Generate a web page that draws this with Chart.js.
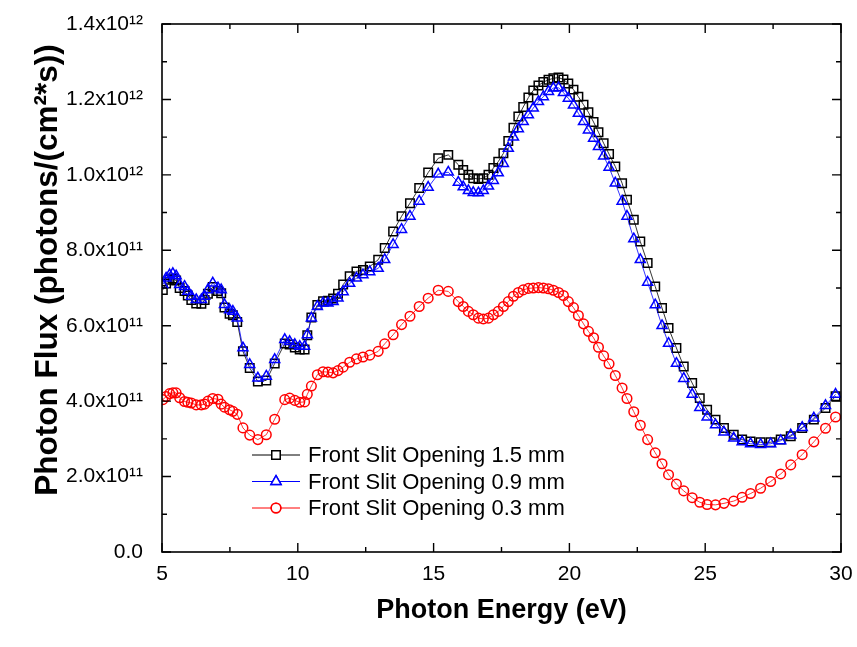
<!DOCTYPE html>
<html>
<head>
<meta charset="utf-8">
<title>Photon Flux vs Photon Energy</title>
<script src="https://cdn.jsdelivr.net/npm/chart.js@4.4.1/dist/chart.umd.min.js"></script>
<style>
    html, body { margin: 0; padding: 0; background: #ffffff; }
    #fluxChart { display: block; }
</style>
</head>
<body>
<canvas id="fluxChart" width="857" height="647"></canvas>
<script>
// photon energy (eV), same grid for all three slit openings
const energy = [
    5.03, 5.15, 5.28, 5.40, 5.52, 5.65, 5.83, 5.95, 6.08, 6.26, 6.45, 6.57, 6.69, 6.87, 7.06, 7.18, 7.30, 7.49, 7.61, 7.77,
    7.98, 8.23, 8.53, 8.84, 9.15, 9.52, 9.70, 9.89, 10.07, 10.25, 10.35, 10.50, 10.72, 10.93, 11.11, 11.30, 11.48,
    11.67, 11.91, 12.16, 12.40, 12.65, 12.96, 13.20, 13.51, 13.82, 14.13, 14.47, 14.80, 15.17, 15.54, 15.91, 16.09,
    16.28, 16.46, 16.65, 16.83, 17.02, 17.20, 17.38,
    17.57, 17.75, 17.94, 18.12, 18.30, 18.49, 18.67, 18.86, 19.04, 19.23, 19.41, 19.60, 19.78, 19.96, 20.15, 20.33,
    20.52, 20.70, 20.89, 21.07, 21.26, 21.46, 21.69, 21.94, 22.12, 22.37, 22.61, 22.88, 23.16, 23.41, 23.65, 23.94,
    24.21, 24.52, 24.80, 25.07, 25.38, 25.69, 26.05, 26.36, 26.67, 27.04, 27.41, 27.78, 28.15, 28.57, 29.00, 29.43, 29.80
];

// photon flux, in units of 1e12 photons/(cm^2*s)
const flux15 = [
    0.695, 0.712, 0.722, 0.725, 0.720, 0.700, 0.692, 0.680, 0.668, 0.659, 0.658, 0.668, 0.685, 0.703, 0.692, 0.686, 0.648, 0.632, 0.628, 0.610,
    0.532, 0.488, 0.452, 0.455, 0.500, 0.553, 0.550, 0.542, 0.537, 0.537, 0.575, 0.622, 0.655, 0.665, 0.666, 0.672, 0.685,
    0.709, 0.731, 0.744, 0.748, 0.757, 0.775, 0.806, 0.850, 0.890, 0.925, 0.965, 1.006, 1.044, 1.053, 1.027, 1.013,
    1.000, 0.991, 0.989, 0.991, 1.000, 1.018, 1.035,
    1.057, 1.090, 1.125, 1.155, 1.180, 1.205, 1.224, 1.237, 1.246, 1.252, 1.256, 1.258, 1.253, 1.242, 1.226, 1.207,
    1.186, 1.166, 1.140, 1.113, 1.084, 1.055, 1.022, 0.978, 0.934, 0.881, 0.823, 0.766, 0.704, 0.647, 0.594, 0.541,
    0.492, 0.448, 0.408, 0.377, 0.351, 0.329, 0.311, 0.298, 0.293, 0.291, 0.291, 0.298, 0.307, 0.329, 0.351, 0.382, 0.413
];

const flux09 = [
    0.709, 0.726, 0.735, 0.738, 0.732, 0.709, 0.704, 0.691, 0.678, 0.669, 0.669, 0.678, 0.695, 0.713, 0.700, 0.695, 0.656, 0.642, 0.638, 0.620,
    0.541, 0.497, 0.461, 0.466, 0.510, 0.563, 0.558, 0.550, 0.545, 0.545, 0.576, 0.620, 0.651, 0.660, 0.660, 0.664, 0.673,
    0.690, 0.712, 0.726, 0.735, 0.743, 0.752, 0.775, 0.815, 0.855, 0.890, 0.930, 0.967, 1.002, 1.007, 0.980, 0.968,
    0.958, 0.953, 0.952, 0.958, 0.970, 0.985, 1.005,
    1.030, 1.070, 1.100, 1.122, 1.141, 1.159, 1.177, 1.194, 1.207, 1.221, 1.230, 1.231, 1.218, 1.203, 1.185, 1.163,
    1.141, 1.119, 1.097, 1.075, 1.050, 1.020, 0.978, 0.930, 0.890, 0.830, 0.775, 0.715, 0.655, 0.600, 0.553, 0.500,
    0.460, 0.418, 0.383, 0.358, 0.337, 0.318, 0.302, 0.292, 0.287, 0.285, 0.287, 0.295, 0.310, 0.330, 0.355, 0.388, 0.418
];

const flux03 = [
    0.404, 0.412, 0.420, 0.422, 0.422, 0.409, 0.399, 0.397, 0.395, 0.390, 0.390, 0.392, 0.400, 0.407, 0.405, 0.392, 0.384, 0.377, 0.373, 0.365,
    0.329, 0.310, 0.298, 0.311, 0.352, 0.404, 0.408, 0.402, 0.397, 0.398, 0.418, 0.440, 0.470, 0.478, 0.477, 0.475, 0.481,
    0.490, 0.503, 0.512, 0.517, 0.522, 0.532, 0.552, 0.576, 0.603, 0.625, 0.651, 0.673, 0.694, 0.691, 0.664, 0.651,
    0.638, 0.629, 0.620, 0.618, 0.620, 0.629, 0.638,
    0.651, 0.664, 0.678, 0.688, 0.695, 0.699, 0.700, 0.701, 0.700, 0.698, 0.694, 0.688, 0.680, 0.664, 0.648, 0.627,
    0.605, 0.585, 0.568, 0.543, 0.520, 0.499, 0.468, 0.435, 0.407, 0.372, 0.336, 0.298, 0.263, 0.234, 0.205, 0.180,
    0.162, 0.144, 0.132, 0.126, 0.125, 0.129, 0.135, 0.145, 0.155, 0.169, 0.187, 0.207, 0.231, 0.258, 0.292, 0.328, 0.358
];

const seriesLabels = ['Front Slit Opening 1.5 mm', 'Front Slit Opening 0.9 mm', 'Front Slit Opening 0.3 mm'];
const xMajorTicks = [5, 10, 15, 20, 25, 30];
const yMajorTicks = [0, 0.2e12, 0.4e12, 0.6e12, 0.8e12, 1.0e12, 1.2e12, 1.4e12];
const FLUX_UNIT = 1e12;

const FONT = '"Liberation Sans", Arial, Helvetica, sans-serif';
const SUP = { '0': '\u2070', '1': '\u00b9', '2': '\u00b2', '3': '\u00b3', '4': '\u2074', '5': '\u2075', '6': '\u2076', '7': '\u2077', '8': '\u2078', '9': '\u2079' };

function sciLabel(v) {
    if (Math.abs(v) < 1) return '0.0';
    const exp = Math.floor(Math.log10(v) + 1e-9);
    const mant = (v / Math.pow(10, exp)).toFixed(1);
    return mant + 'x10' + String(exp).split('').map(c => SUP[c]).join('');
}

function isMajorX(v) {
    return xMajorTicks.some(t => Math.abs(t - v) < 1e-6);
}

function isMajorY(v) {
    return yMajorTicks.some(t => Math.abs(t - v) < 1e3);
}

function toPoints(values) {
    return energy.map((e, i) => ({ x: e, y: values[i] * FLUX_UNIT }));
}

// frame, inward ticks, axis titles and the legend box
const framePlugin = {
    id: 'framePlugin',
    afterDraw(chart) {
        const ctx = chart.ctx;
        const area = chart.chartArea;
        const xScale = chart.scales.x;
        const yScale = chart.scales.y;

        ctx.save();
        ctx.strokeStyle = '#000';
        ctx.lineWidth = 1.6;
        ctx.strokeRect(area.left, area.top, area.right - area.left, area.bottom - area.top);

        ctx.lineWidth = 1.4;
        ctx.beginPath();
        xScale.ticks.forEach(t => {
            const px = xScale.getPixelForValue(t.value);
            const len = isMajorX(t.value) ? 9 : 5;
            ctx.moveTo(px, area.bottom);
            ctx.lineTo(px, area.bottom - len);
            ctx.moveTo(px, area.top);
            ctx.lineTo(px, area.top + len);
        });
        yScale.ticks.forEach(t => {
            const py = yScale.getPixelForValue(t.value);
            const len = isMajorY(t.value) ? 9 : 5;
            ctx.moveTo(area.left, py);
            ctx.lineTo(area.left + len, py);
            ctx.moveTo(area.right, py);
            ctx.lineTo(area.right - len, py);
        });
        ctx.stroke();

        // axis titles
        ctx.fillStyle = '#000';
        ctx.textAlign = 'center';
        ctx.textBaseline = 'middle';
        ctx.font = 'bold 27px ' + FONT;
        ctx.fillText('Photon Energy (eV)', (area.left + area.right) / 2, 611);

        ctx.save();
        ctx.translate(48, 270);
        ctx.rotate(-Math.PI / 2);
        ctx.font = 'bold 31.5px ' + FONT;
        ctx.fillText('Photon Flux (photons/(cm\u00b2*s))', 0, 0);
        ctx.restore();

        // legend
        const rows = [455, 481.5, 508];
        ctx.font = '22px ' + FONT;
        ctx.textAlign = 'left';
        chart.data.datasets.forEach((ds, i) => {
            const y = rows[i];
            ctx.strokeStyle = ds.borderColor;
            ctx.lineWidth = 1;
            ctx.beginPath();
            ctx.moveTo(252, y);
            ctx.lineTo(300, y);
            ctx.stroke();
            ctx.lineWidth = ds.pointBorderWidth;
            ctx.fillStyle = '#ffffff';
            Chart.helpers.drawPoint(ctx, {
                pointStyle: ds.pointStyle,
                radius: ds.pointRadius,
                borderWidth: ds.pointBorderWidth,
                rotation: 0
            }, 276, y);
            ctx.fill();
            ctx.stroke();
            ctx.fillStyle = '#000';
            ctx.fillText(ds.label, 308, y + 1);
        });
        ctx.restore();
    }
};

function makeDataset(label, values, color, style, radius, order) {
    return {
        label: label,
        data: toPoints(values),
        showLine: true,
        borderColor: color,
        borderWidth: 0.8,
        pointStyle: style,
        pointRadius: radius,
        pointBorderWidth: 1.5,
        pointBorderColor: color,
        pointBackgroundColor: 'rgba(0,0,0,0)',
        tension: 0,
        order: order
    };
}

const ctx = document.getElementById('fluxChart').getContext('2d');
new Chart(ctx, {
    type: 'scatter',
    data: {
        datasets: [
            makeDataset(seriesLabels[0], flux15, '#000000', 'rect', 6, 3),
            makeDataset(seriesLabels[1], flux09, '#0000ff', 'triangle', 5.8, 2),
            makeDataset(seriesLabels[2], flux03, '#ff0000', 'circle', 4.8, 1)
        ]
    },
    options: {
        responsive: false,
        animation: false,
        devicePixelRatio: 1,
        events: [],
        layout: { padding: { top: 24, right: 16, bottom: 0, left: 0 } },
        plugins: {
            legend: { display: false },
            tooltip: { enabled: false }
        },
        scales: {
            x: {
                type: 'linear',
                min: 5,
                max: 30,
                afterFit: scale => {
                    scale.height = 95;
                    scale.paddingLeft = 0;
                    scale.paddingRight = 0;
                },
                grid: { display: false, drawTicks: false },
                border: { display: false },
                ticks: {
                    stepSize: 2.5,
                    autoSkip: false,
                    maxRotation: 0,
                    padding: 10,
                    color: '#000',
                    font: { family: FONT, size: 21 },
                    callback: v => isMajorX(v) ? String(v) : ''
                }
            },
            y: {
                type: 'linear',
                min: 0,
                max: 1.4e12,
                afterFit: scale => {
                    scale.width = 162;
                    scale.paddingTop = 0;
                    scale.paddingBottom = 0;
                },
                grid: { display: false, drawTicks: false },
                border: { display: false },
                ticks: {
                    stepSize: 0.1e12,
                    autoSkip: false,
                    maxTicksLimit: 30,
                    padding: 19,
                    color: '#000',
                    font: { family: FONT, size: 21 },
                    callback: v => isMajorY(v) ? sciLabel(v) : ''
                }
            }
        }
    },
    plugins: [framePlugin]
});
</script>
</body>
</html>
